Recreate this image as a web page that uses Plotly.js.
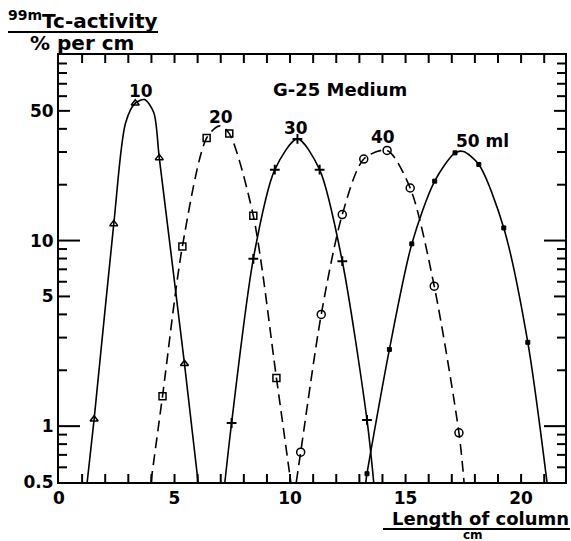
<!DOCTYPE html>
<html>
<head>
<meta charset="utf-8">
<script src="https://cdn.plot.ly/plotly-3.0.1.min.js"></script>
<style>html,body{margin:0;padding:0;background:#fff;}#chart{width:571px;height:541px;}</style>
</head>
<body>
<div id="chart"></div>
<script>
// ---- data (x = length of column, cm; y = % per cm) ----
// 10 ml fraction (solid, open triangles)
const c10_x = [1.52, 2.37, 3.30, 4.34, 5.43];
const c10_y = [1.09, 12.3, 55.0, 27.9, 2.17];
const c10_lx = [1.22, 1.52, 2.37, 2.88, 3.30, 3.70, 4.10, 4.34, 5.43, 6.02];
const c10_ly = [0.5, 1.09, 12.3, 43.0, 55.0, 57.5, 49.0, 27.9, 2.17, 0.5];
// 20 ml fraction (dashed, open squares)
const c20_x = [4.48, 5.34, 6.39, 7.37, 8.41, 9.41];
const c20_y = [1.45, 9.3, 35.7, 37.7, 13.6, 1.82];
const c20_lx = [3.98, 4.48, 5.34, 6.39, 6.95, 7.37, 8.41, 9.41, 10.03];
const c20_ly = [0.5, 1.45, 9.3, 35.7, 41.5, 37.7, 13.6, 1.82, 0.5];
// 30 ml fraction (solid, crosses)
const c30_x = [7.47, 8.41, 9.34, 10.32, 11.28, 12.26, 13.33];
const c30_y = [1.04, 7.97, 24.1, 35.3, 24.1, 7.74, 1.08];
const c30_lx = [7.18, 7.47, 8.41, 9.34, 10.32, 11.28, 12.26, 13.33, 13.62];
const c30_ly = [0.5, 1.04, 7.97, 24.1, 35.3, 24.1, 7.74, 1.08, 0.5];
// 40 ml fraction (dashed, open circles)
const c40_x = [10.46, 11.35, 12.26, 13.19, 14.20, 15.20, 16.24, 17.31];
const c40_y = [0.724, 4.0, 13.8, 27.5, 30.6, 19.2, 5.68, 0.92];
const c40_lx = [10.27, 10.46, 11.35, 12.26, 13.19, 14.20, 15.20, 16.24, 17.31, 17.53];
const c40_ly = [0.5, 0.724, 4.0, 13.8, 27.5, 30.6, 19.2, 5.68, 0.92, 0.5];
// 50 ml fraction (solid, small filled squares)
const c50_x = [13.33, 14.30, 15.27, 16.26, 17.14, 18.17, 19.25, 20.29];
const c50_y = [0.554, 2.59, 9.6, 20.9, 29.7, 25.7, 11.7, 2.83];
const c50_lx = [13.28, 13.33, 14.30, 15.27, 16.26, 17.14, 17.50, 18.17, 19.25, 20.29, 21.12];
const c50_ly = [0.5, 0.554, 2.59, 9.6, 20.9, 29.7, 30.2, 25.7, 11.7, 2.83, 0.5];

const curveLabels = ['10', '20', '30', '40', '50 ml'];
const xTickVals = [0, 5, 10, 15, 20];
const xTickText = ['0', '5', '10', '15', '20'];
const xMarkVals = [1, 2, 3, 4, 5, 6, 7, 8, 9, 10, 11, 12, 13, 14, 15, 16, 17, 18, 19, 20, 21];
const yTickVals = [0.5, 1, 5, 10, 50];
const yTickText = ['0.5', '1', '5', '10', '50'];
const yMidVals = [5, 50];
const yMinorVals = [0.6, 0.7, 0.8, 0.9, 2, 3, 4, 6, 7, 8, 9, 20, 30, 40, 60, 70, 80, 90];
const yLongVals = [1, 10];

// ---- layout geometry ----
const L = 59, R = 6, T = 55, B = 59, W = 571, H = 541;
const PW = W - L - R, PH = H - T - B;
const px = x => (x - L) / PW;
const py = y => (H - B - y) / PH;

const FONT = 'DejaVu Sans, Liberation Sans, sans-serif';
const black = '#000';
const dash = '11px,6px';

function lineTrace(x, y, d) {
  return {x: x, y: y, mode: 'lines', type: 'scatter', hoverinfo: 'skip',
    line: {color: black, width: 1.6, shape: 'spline', smoothing: 0.8, dash: d}};
}
function markTrace(x, y, sym, size, lw) {
  return {x: x, y: y, mode: 'markers', type: 'scatter', cliponaxis: false,
    marker: {symbol: sym, size: size, color: black, line: {color: black, width: lw}}};
}

const traces = [
  lineTrace(c10_lx, c10_ly, 'solid'),
  lineTrace(c20_lx, c20_ly, dash),
  lineTrace(c30_lx, c30_ly, 'solid'),
  lineTrace(c40_lx, c40_ly, dash),
  lineTrace(c50_lx, c50_ly, 'solid'),
  markTrace(c10_x, c10_y, 'triangle-up-open', 7, 1.5),
  markTrace(c20_x, c20_y, 'square-open', 7, 1.5),
  markTrace(c30_x, c30_y, 'cross-thin-open', 7, 2),
  markTrace(c40_x, c40_y, 'circle-open', 8, 1.5),
  markTrace(c50_x, c50_y, 'square', 4, 1)
];

const labelPos = [[141, 91], [221, 117], [296, 128], [383, 137], [482, 141]];
const annotations = curveLabels.map((t, i) => ({
  text: t, xref: 'paper', yref: 'paper', x: px(labelPos[i][0]), y: py(labelPos[i][1]),
  xanchor: 'center', yanchor: 'middle', showarrow: false,
  font: {family: FONT, size: 17, weight: 'bold', color: black}
}));
annotations.push(
  {text: 'G-25 Medium', xref: 'paper', yref: 'paper', x: px(340), y: py(89), xanchor: 'center', yanchor: 'middle',
   showarrow: false, font: {family: FONT, size: 18, weight: 'bold', color: black}},
  {text: '<sup>99m</sup>Tc-activity', xref: 'paper', yref: 'paper', x: px(6), y: py(20), xanchor: 'left', yanchor: 'middle',
   showarrow: false, font: {family: FONT, size: 20, weight: 'bold', color: black}},
  {text: '% per cm', xref: 'paper', yref: 'paper', x: px(28), y: py(43), xanchor: 'left', yanchor: 'middle',
   showarrow: false, font: {family: FONT, size: 20, weight: 'bold', color: black}},
  {text: 'Length of column', xref: 'paper', yref: 'paper', x: px(571), y: py(518), xanchor: 'right', yanchor: 'middle',
   showarrow: false, font: {family: FONT, size: 18, weight: 'bold', color: black}},
  {text: 'cm', xref: 'paper', yref: 'paper', x: px(473), y: py(535), xanchor: 'center', yanchor: 'middle',
   showarrow: false, font: {family: FONT, size: 12, weight: 'bold', color: black}}
);

const shapes = [
  {type: 'line', xref: 'paper', yref: 'paper', x0: px(8), x1: px(158), y0: py(32), y1: py(32), line: {color: black, width: 2}},
  {type: 'line', xref: 'paper', yref: 'paper', x0: px(383), x1: px(570), y0: py(529), y1: py(529), line: {color: black, width: 2}}
];
// inward tick marks on all four sides, placed by the axes' own scales
function yTicks(vals, len) {
  vals.forEach(v => {
    shapes.push({type: 'line', xref: 'paper', yref: 'y', x0: 0, x1: len / PW, y0: v, y1: v, line: {color: black, width: 2}});
    shapes.push({type: 'line', xref: 'paper', yref: 'y', x0: 1 - len / PW, x1: 1, y0: v, y1: v, line: {color: black, width: 2}});
  });
}
yTicks(yLongVals, 21);
yTicks(yMidVals, 11);
yTicks(yMinorVals, 8);
xMarkVals.forEach(v => {
  shapes.push({type: 'line', xref: 'x', yref: 'paper', x0: v, x1: v, y0: 0, y1: 8 / PH, line: {color: black, width: 2}});
  shapes.push({type: 'line', xref: 'x', yref: 'paper', x0: v, x1: v, y0: 1 - 8 / PH, y1: 1, line: {color: black, width: 2}});
});

const layout = {
  width: W, height: H,
  margin: {l: L, r: R, t: T, b: B},
  paper_bgcolor: '#fff', plot_bgcolor: '#fff',
  showlegend: false,
  font: {family: FONT, color: black},
  xaxis: {
    range: [0, 21.9], tickmode: 'array', tickvals: xTickVals, ticktext: xTickText,
    ticks: '', showline: true, linewidth: 2, linecolor: black, mirror: true,
    showgrid: false, zeroline: false,
    tickfont: {family: FONT, size: 17, weight: 'bold', color: black}
  },
  yaxis: {
    type: 'log', range: [Math.log10(0.5), 2],
    tickmode: 'array', tickvals: yTickVals, ticktext: yTickText,
    ticks: '', showline: true, linewidth: 2, linecolor: black, mirror: true,
    showgrid: false, zeroline: false,
    tickfont: {family: FONT, size: 17, weight: 'bold', color: black}
  },
  annotations: annotations,
  shapes: shapes
};

Plotly.newPlot('chart', traces, layout, {staticPlot: true, displayModeBar: false});
</script>
</body>
</html>
